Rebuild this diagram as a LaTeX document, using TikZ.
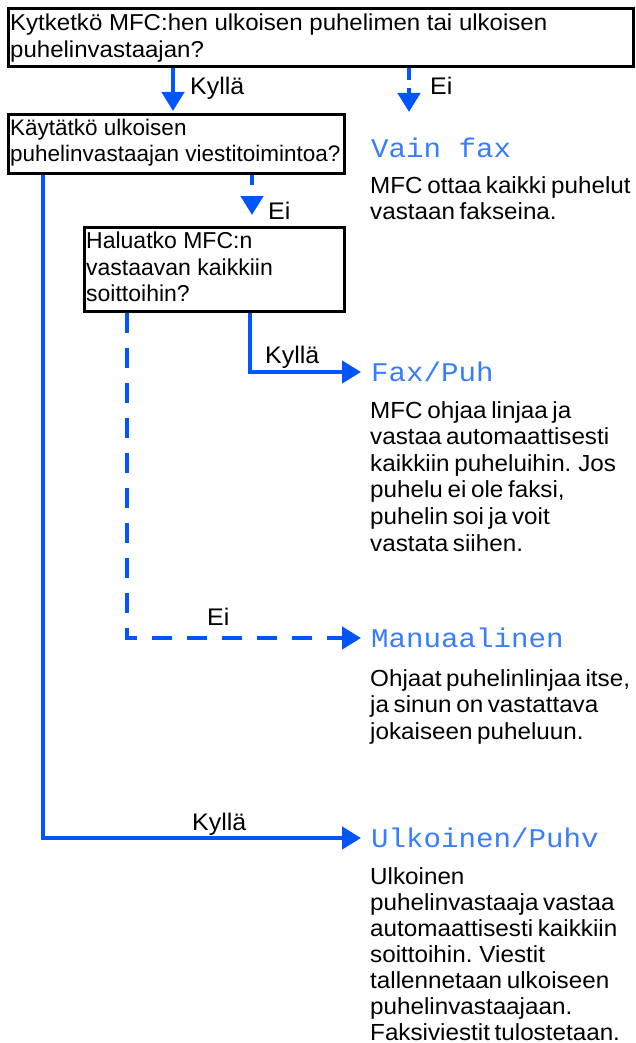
\documentclass[tikz,border=0pt]{standalone}
\usepackage{fontspec}
\setmainfont{Liberation Sans}
\newfontfamily\widefont[FakeStretch=1.04]{Liberation Sans}
\newfontfamily\lcd[FakeStretch=1.08]{Liberation Mono}
\usetikzlibrary{arrows.meta}
\definecolor{lblue}{RGB}{0,85,255}
\definecolor{tblue}{RGB}{55,125,255}
\newcommand\tightsp{\spaceskip=0.2em plus 0.1em minus 0.05em\relax}
\begin{document}
\begin{tikzpicture}[x=1pt,y=-1pt,
  qbox/.style={draw=black,line width=3pt,anchor=north west,inner sep=0pt},
  qtext/.style={anchor=north west,inner sep=0pt,align=left},
  conn/.style={draw=lblue,line width=4.5pt},
  tip/.style={-{Triangle[length=19pt,width=22pt]}},
  dsh/.style={dash pattern=on 20pt off 15pt},
  lbl/.style={anchor=base west,inner sep=0pt,font=\widefont\fontsize{24}{26}\selectfont},
  mode/.style={anchor=west,inner sep=0pt,text=tblue,text height=18pt,text depth=0pt,font=\lcd\fontsize{27}{30}\selectfont},
  desc/.style={anchor=north west,inner sep=0pt,align=left,font=\widefont\fontsize{23.3}{26.6}\selectfont,execute at begin node=\tightsp}]
\useasboundingbox (0,0) rectangle (635,1043);

% question boxes
\node[qbox,minimum width=625pt,minimum height=58pt] (b1) at (7,7) {};
\node[qtext,font=\fontsize{23}{26.5}\selectfont\addfontfeature{FakeStretch=1.045}] (t1) at (10,14)
  {Kytketkö MFC:hen ulkoisen puhelimen tai ulkoisen\\puhelinvastaajan?};
\node[qbox,minimum width=336pt,minimum height=59pt] (b2) at (7,113) {};
\node[qtext,font=\fontsize{22.5}{26}\selectfont] (t2) at (10,119)
  {Käytätkö ulkoisen\\puhelinvastaajan viestitoimintoa?};
\node[qbox,minimum width=260pt,minimum height=84pt] (b3) at (83,226) {};
\node[qtext,font=\fontsize{23}{26.3}\selectfont] (t3) at (86,232)
  {Haluatko MFC:n\\vastaavan kaikkiin\\soittoihin?};

% modes
\node[mode] (mfax) at (371,149) {Vain fax};
\node[desc] (dfax) at (370,176) {MFC ottaa kaikki puhelut\\vastaan fakseina.};
\node[mode] (mtel) at (371,372) {Fax/Puh};
\node[desc] (dtel) at (370,401) {MFC ohjaa linjaa ja\\vastaa automaattisesti\\kaikkiin puheluihin. Jos\\puhelu ei ole faksi,\\puhelin soi ja voit\\vastata siihen.};
\node[mode] (mman) at (371,638) {Manuaalinen};
\node[desc] (dman) at (370,669) {Ohjaat puhelinlinjaa itse,\\ja sinun on vastattava\\jokaiseen puheluun.};
\node[mode] (mext) at (371,838) {Ulkoinen/Puhv};
\node[desc,font=\widefont\fontsize{23.3}{26}\selectfont] (dext) at (370,867) {Ulkoinen\\puhelinvastaaja vastaa\\automaattisesti kaikkiin\\soittoihin. Viestit\\tallennetaan ulkoiseen\\puhelinvastaajaan.\\Faksiviestit tulostetaan.};

% labels
\node[lbl] (l1) at (190,95) {Kyllä};
\node[lbl] (l2) at (430,95) {Ei};
\node[lbl] (l3) at (268,219) {Ei};
\node[lbl] (l4) at (265,363) {Kyllä};
\node[lbl] (l5) at (207,625) {Ei};
\node[lbl] (l6) at (192,830) {Kyllä};

% helper coordinates
\coordinate (xk) at (173,0);
\coordinate (xe) at (409,112);
\coordinate (xm) at (252,0);
\coordinate (xl) at (43,0);
\coordinate (xd) at (127,0);
\coordinate (xf) at (250,0);

% connectors
\draw[conn,tip,shorten >=2pt] (b1.south -| xk) -- (b2.north -| xk);
\draw[conn,tip,dash pattern=on 12pt off 8pt] (b1.south -| xe) -- (xe);
\draw[conn,tip,dash pattern=on 10pt off 13pt,shorten >=11pt] (b2.south -| xm) -- (b3.north -| xm);
\draw[conn,tip,shorten >=10pt] (b3.south -| xf) |- (mtel.west);
\draw[conn,tip,dsh,shorten >=10pt] (b3.south -| xd) |- (mman.west);
\draw[conn,tip,shorten >=10pt] (b2.south -| xl) |- (mext.west);
\end{tikzpicture}
\end{document}
